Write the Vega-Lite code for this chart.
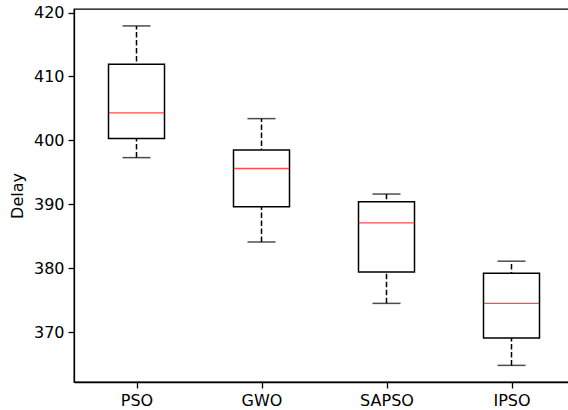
{
  "$schema": "https://vega.github.io/schema/vega-lite/v6.json",
  "autosize": "none",
  "padding": {"left": 74, "top": 9, "right": 0, "bottom": 28},
  "width": 500,
  "height": 373,
  "background": "white",
  "config": {
    "view": {"stroke": "black", "strokeWidth": 1.3},
    "font": "DejaVu Sans",
    "axis": {
      "grid": false,
      "domainColor": "black",
      "domainWidth": 1.3,
      "tickColor": "black",
      "tickSize": 6,
      "tickWidth": 1.3,
      "labelFont": "DejaVu Sans",
      "labelFontSize": 16,
      "labelColor": "black",
      "labelPadding": 4,
      "titleFont": "DejaVu Sans",
      "titleFontSize": 16,
      "titleFontWeight": "normal",
      "titleColor": "black"
    }
  },
  "data": {
    "values": [
      {"algo": "PSO", "lo": 397.3, "q1": 400.3, "med": 404.3, "q3": 411.9, "hi": 417.9},
      {"algo": "GWO", "lo": 384.1, "q1": 389.6, "med": 395.6, "q3": 398.5, "hi": 403.4},
      {"algo": "SAPSO", "lo": 374.5, "q1": 379.4, "med": 387.1, "q3": 390.4, "hi": 391.6},
      {"algo": "IPSO", "lo": 364.8, "q1": 369.1, "med": 374.5, "q3": 379.2, "hi": 381.1}
    ]
  },
  "encoding": {
    "x": {
      "field": "algo",
      "type": "nominal",
      "sort": null,
      "scale": {"type": "point", "padding": 0.5},
      "axis": {"title": null, "labelAngle": 0}
    }
  },
  "layer": [
    {
      "mark": {"type": "rule", "color": "black", "strokeWidth": 1.5, "strokeDash": [5.5, 2.5]},
      "encoding": {
        "y": {
          "field": "lo",
          "type": "quantitative",
          "scale": {"domain": [362.2, 420.55], "nice": false, "zero": false},
          "axis": {"title": "Delay", "values": [370, 380, 390, 400, 410, 420], "titlePadding": 8}
        },
        "y2": {"field": "hi"}
      }
    },
    {
      "mark": {"type": "bar", "size": 56, "fill": "white", "stroke": "black", "strokeWidth": 1.5},
      "encoding": {
        "y": {"field": "q1", "type": "quantitative"},
        "y2": {"field": "q3"}
      }
    },
    {
      "mark": {"type": "tick", "color": "red", "size": 55, "thickness": 1.4, "orient": "horizontal"},
      "encoding": {"y": {"field": "med", "type": "quantitative"}}
    },
    {
      "mark": {"type": "tick", "color": "black", "size": 28, "thickness": 1.5, "orient": "horizontal"},
      "encoding": {"y": {"field": "lo", "type": "quantitative"}}
    },
    {
      "mark": {"type": "tick", "color": "black", "size": 28, "thickness": 1.5, "orient": "horizontal"},
      "encoding": {"y": {"field": "hi", "type": "quantitative"}}
    }
  ]
}
